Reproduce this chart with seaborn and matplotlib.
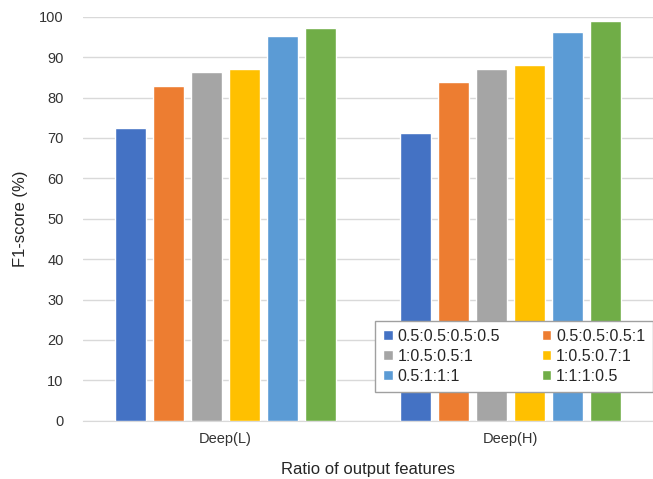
import pandas as pd
import matplotlib.pyplot as plt
import seaborn as sns

# values
groups = ['Deep(L)', 'Deep(H)']
ratios = ['0.5:0.5:0.5:0.5', '0.5:0.5:0.5:1', '1:0.5:0.5:1',
          '1:0.5:0.7:1', '0.5:1:1:1', '1:1:1:0.5']
deep_l = [72.4, 82.8, 86.2, 87.1, 95.3, 97.1]
deep_h = [71.1, 83.8, 87.1, 88.1, 96.2, 98.9]
colors = ['#4472C4', '#ED7D31', '#A5A5A5', '#FFC000', '#5B9BD5', '#70AD47']

df = pd.DataFrame({
    'Group': [groups[0]] * 6 + [groups[1]] * 6,
    'Ratio': ratios * 2,
    'F1': deep_l + deep_h,
})

sns.set_style('white')
plt.rcParams['font.family'] = ['Liberation Sans', 'DejaVu Sans']

fig = plt.figure(figsize=(6.53, 4.79), dpi=100)
ax = fig.add_axes([83 / 653, 1 - 420.7 / 479, 570 / 653, 404 / 479])

sns.barplot(data=df, x='Group', y='F1', hue='Ratio', hue_order=ratios,
            palette=colors, saturation=1, width=0.8, gap=0.18, ax=ax,
            zorder=3)

ax.set_ylim(0, 100)
ax.set_yticks(range(0, 101, 10))
ax.set_xlim(-0.5, 1.5)
ax.yaxis.grid(True, color='#d9d9d9', linewidth=1, zorder=0)
ax.set_axisbelow(True)
for s in ['top', 'right', 'left']:
    ax.spines[s].set_visible(False)
ax.spines['bottom'].set_color('#d9d9d9')
ax.tick_params(axis='both', length=0, labelsize=10.5, colors='#333333', pad=8)
ax.tick_params(axis='y', pad=14)
ax.set_xticks([0.5], minor=True)
ax.tick_params(axis='x', which='minor', length=5, color='#d9d9d9', direction='out')

ax.set_ylabel('F1-score (%)', fontsize=12, labelpad=8)
ax.set_xlabel('Ratio of output features', fontsize=12, labelpad=12)

# row-wise legend order like the original
handles, labels = ax.get_legend_handles_labels()
order = [0, 2, 4, 1, 3, 5]
leg = ax.legend([handles[i] for i in order], [labels[i] for i in order],
                ncol=2, loc='lower right', bbox_to_anchor=(1.0, 0.071),
                borderaxespad=0, fontsize=11.5, frameon=True, fancybox=False,
                framealpha=1, handlelength=0.6, handleheight=0.6,
                handletextpad=0.3, columnspacing=2.6, labelspacing=0.32,
                borderpad=0.5)
leg.get_frame().set_edgecolor('#a0a0a0')
leg.get_frame().set_linewidth(1)
leg.set_zorder(5)

fig.savefig('out.png', dpi=100)
